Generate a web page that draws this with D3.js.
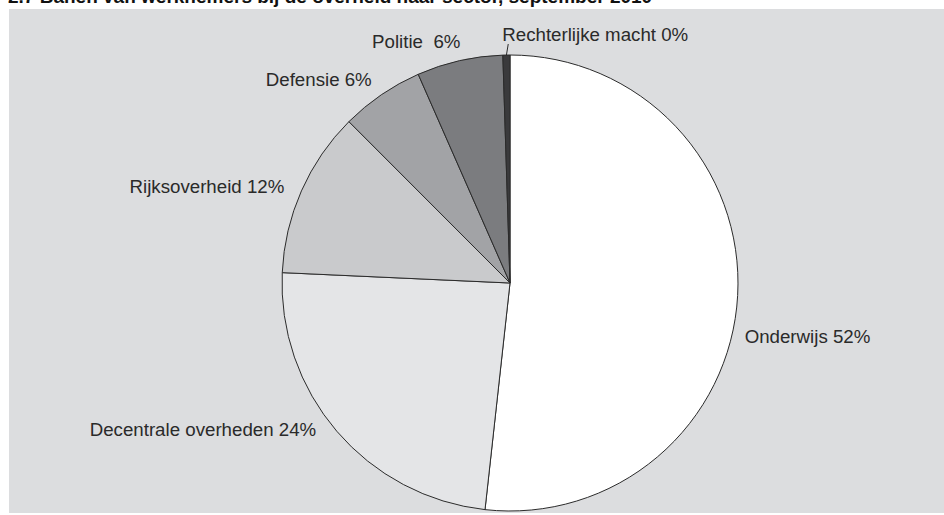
<!DOCTYPE html>
<html>
<head>
<meta charset="utf-8">
<script src="https://cdn.jsdelivr.net/npm/d3@7"></script>
<style>
  body { margin: 0; background: #fff; }
  text { font-family: "Liberation Sans", Arial, sans-serif; }
</style>
</head>
<body>
<svg width="944" height="515"></svg>
<script>
// sectors, clockwise from 12 o'clock
var sectors = ["Onderwijs", "Decentrale overheden", "Rijksoverheid", "Defensie", "Politie", "Rechterlijke macht"];
var shares  = [51.8, 24.0, 11.8, 5.9, 6.1, 0.5];
var labels  = ["Onderwijs 52%", "Decentrale overheden 24%", "Rijksoverheid 12%", "Defensie 6%", "Politie  6%", "Rechterlijke macht 0%"];
var fills   = ["#ffffff", "#e4e5e7", "#c9cacc", "#a2a3a6", "#7b7c7f", "#3a3a3c"];

var svg = d3.select("svg"),
    width = +svg.attr("width"),
    height = +svg.attr("height");

var cx = 510, cy = 283, r = 228;

// title, cut off at the top like in the print
svg.append("text")
    .attr("x", 8)
    .attr("y", 3)
    .attr("font-size", 19)
    .attr("font-weight", "bold")
    .attr("fill", "#111")
    .text("2.7 Banen van werknemers bij de overheid naar sector, september 2010");

svg.append("rect")
    .attr("x", 9).attr("y", 9)
    .attr("width", width - 9).attr("height", 504)
    .attr("fill", "#dcdddf");

var data = sectors.map(function(s, i) { return { name: s, value: shares[i], label: labels[i], fill: fills[i] }; });

var pie = d3.pie().sort(null).value(function(d) { return d.value; });
var arc = d3.arc().innerRadius(0).outerRadius(r);

var g = svg.append("g").attr("transform", "translate(" + cx + "," + cy + ")");

var arcs = pie(data);

g.selectAll("path")
    .data(arcs)
    .enter().append("path")
    .attr("d", arc)
    .attr("fill", function(d) { return d.data.fill; })
    .attr("stroke", "#2b2b2b")
    .attr("stroke-width", 1)
    .attr("stroke-linejoin", "round");

// label placement: polar point just outside the rim, plus a nudge
var nudge = {
  "Onderwijs": [-3, 40, "start"],
  "Decentrale overheden": [-13, -8, "end"],
  "Rijksoverheid": [-8, 0, "end"],
  "Defensie": [-4, -7, "end"],
  "Politie": [3, -9, "end"],
  "Rechterlijke macht": [-4, -11, "start"]
};

function polar(a, rad) { return [Math.sin(a) * rad, -Math.cos(a) * rad]; }

arcs.forEach(function(d) {
  var mid = (d.startAngle + d.endAngle) / 2,
      p = polar(mid, r + 10),
      n = nudge[d.data.name];
  if (d.data.name === "Rechterlijke macht") {
    var p0 = polar(mid, r), p1 = polar(mid, r + 11);
    g.append("line")
        .attr("x1", p0[0]).attr("y1", p0[1])
        .attr("x2", p1[0] + 2).attr("y2", p1[1])
        .attr("stroke", "#2b2b2b").attr("stroke-width", 1);
  }
  g.append("text")
      .attr("x", p[0] + n[0])
      .attr("y", p[1] + n[1])
      .attr("dy", "0.35em")
      .attr("text-anchor", n[2])
      .attr("font-size", 18.7)
      .attr("fill", "#2a2a2a")
      .style("white-space", "pre")
      .text(d.data.label);
});
</script>
</body>
</html>
